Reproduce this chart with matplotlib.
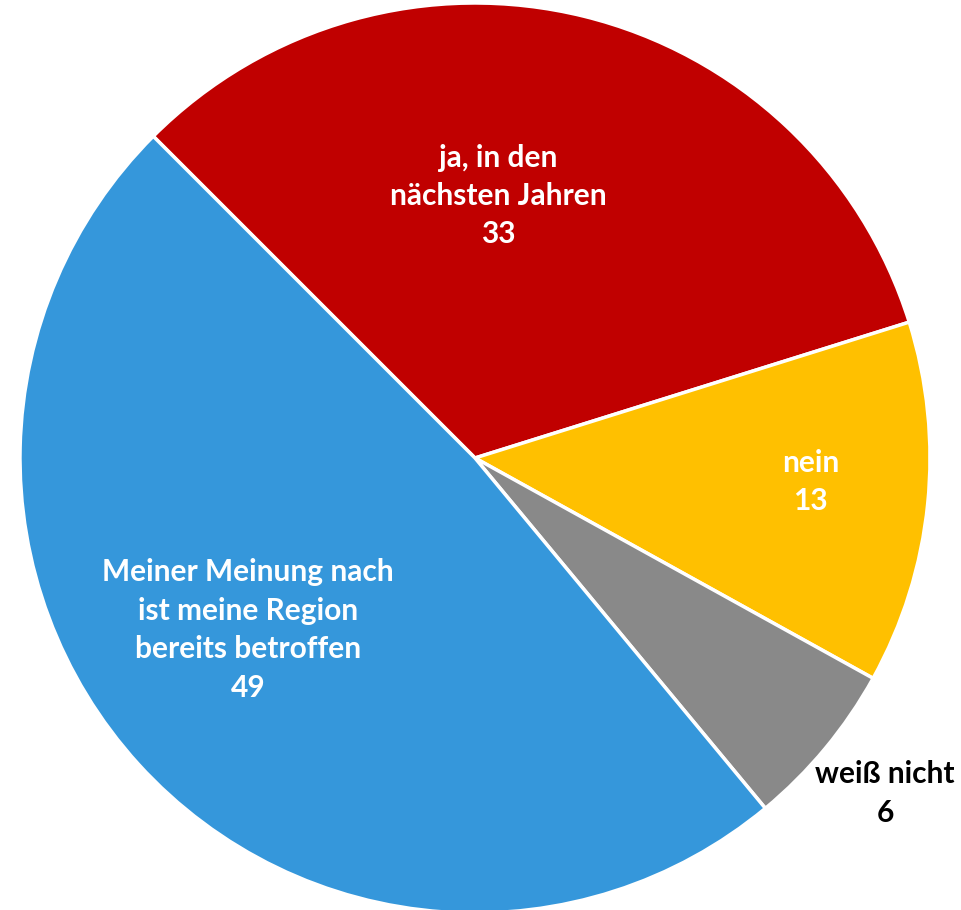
import matplotlib
matplotlib.use("Agg")
import matplotlib.pyplot as plt

labels = ["ja, in den\nnächsten Jahren", "nein", "weiß nicht", "Meiner Meinung nach\nist meine Region\nbereits betroffen"]
values = [33, 13, 6, 49]
colors = ["#C00000", "#FFC000", "#898989", "#3597DB"]
text_colors = ["white", "white", "black", "white"]
label_pos = [(0.051, 0.576), (0.738, -0.053), (0.901, -0.737), (-0.499, -0.378)]

W, H = 962, 910
fig = plt.figure(figsize=(W / 100, H / 100), dpi=100)
cx, cy, r = 475, 458, 455
ax = fig.add_axes([(cx - r) / W, (H - cy - r) / H, 2 * r / W, 2 * r / H])
ax.pie(values, colors=colors, startangle=135, counterclock=False,
       wedgeprops=dict(edgecolor="white", linewidth=2.5))
ax.set_xlim(-1, 1)
ax.set_ylim(-1, 1)
ax.axis("off")

for lab, v, (x, y), tc in zip(labels, values, label_pos, text_colors):
    ax.text(x, y, f"{lab}\n{v}", ha="center", va="center", color=tc,
            fontsize=21.5, fontweight="bold", family=["Lato", "DejaVu Sans"],
            linespacing=1.45, clip_on=False)

fig.savefig("out.png", dpi=100)
